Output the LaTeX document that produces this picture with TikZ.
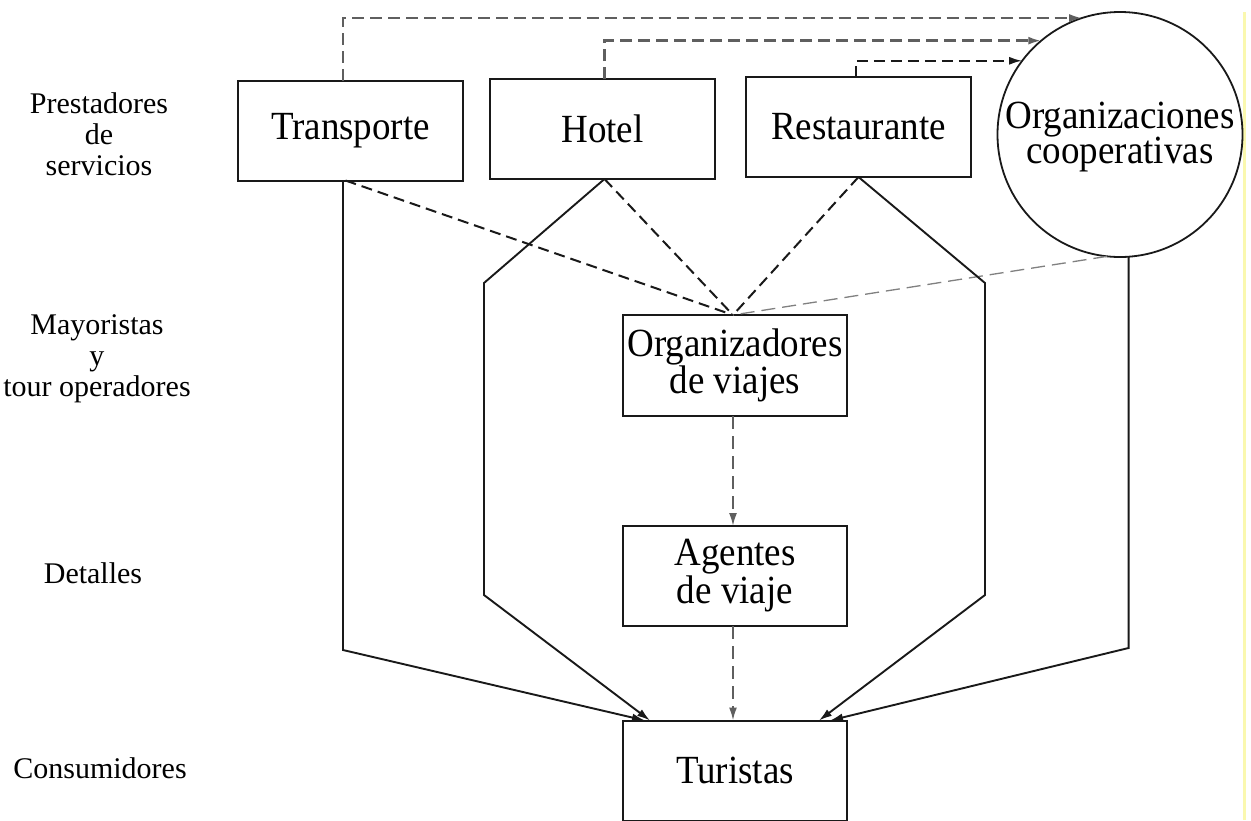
\documentclass[tikz,border=0pt]{standalone}
\usepackage{fontspec}
\usepackage{graphicx}
\setmainfont{Liberation Serif}
\usetikzlibrary{arrows.meta}
\definecolor{lineblack}{RGB}{25,25,25}
\definecolor{dashgray}{RGB}{95,95,95}
\definecolor{paleyellow}{RGB}{250,248,175}
\newcommand{\tallstack}[1]{\scalebox{1}[1.08]{\begin{tabular}{@{}c@{}}#1\end{tabular}}}
\newcommand{\tallword}[1]{\scalebox{1}[1.08]{#1}}
\tikzset{
  box/.style={draw=lineblack, line width=2pt, inner sep=0pt, outer sep=0pt,
    minimum width=225pt, minimum height=100pt, align=center,
    font=\fontsize{37}{29}\selectfont},
  coopnode/.style={draw=lineblack, line width=1.8pt, circle, inner sep=0pt, outer sep=0pt,
    minimum size=245pt, align=center, font=\fontsize{37}{29}\selectfont},
  lab/.style={inner sep=0pt, align=center, font=\fontsize{30}{31}\selectfont},
  tip/.style={-{Latex[length=13pt,width=8pt]}},
  solidline/.style={draw=lineblack, line width=1.9pt},
  topdash/.style={draw=dashgray, line width=2.4pt, dash pattern=on 12pt off 6pt},
  middash/.style={draw=lineblack, line width=2pt, dash pattern=on 11pt off 6pt},
  thindash/.style={draw=gray, line width=1.3pt, dash pattern=on 14pt off 7pt},
  vdash/.style={draw=dashgray, line width=2pt, dash pattern=on 13pt off 7pt}
}
\begin{document}
\begin{tikzpicture}[x=1pt,y=-1pt]
\useasboundingbox (0,0) rectangle (1251,820);
\fill[white] (0,0) rectangle (1251,820);
\draw[paleyellow, line width=3pt] (1244,12) -- (1244,820);

% left labels
\node[lab] (l1) at (99,134) {Prestadores\\de\\servicios};
\node[lab] (l2) at (97,359) {Mayoristas\\y\\tour operadores};
\node[lab] (l3) at (93,573) {Detalles};
\node[lab] (l4) at (100,768) {Consumidores};

% nodes
\node[box] (trans) at (350.5,130.5) {\tallword{Transporte}};
\node[box] (hotel) at (602.5,129) {\tallword{Hotel}};
\node[box] (rest) at (858.5,127) {\tallword{Restaurante}};
\node[coopnode] (coop) at (1120,134.5) {\raisebox{-3pt}[\height][\depth]{\tallstack{Organizaciones\\cooperativas}}};
\node[box, minimum width=224pt, minimum height=101pt] (org) at (735,365.5) {\tallstack{Organizadores\\de viajes}};
\node[box, minimum width=224pt, font=\fontsize{37}{31.5}\selectfont] (agt) at (735,576) {\tallstack{Agentes\\de viaje}};
\node[box, minimum width=224pt] (tur) at (735,770.5) {\tallword{Turistas}};

% top dashed arrows to the circle
\draw[topdash, tip] ([xshift=-7.5pt]trans.north) |- (coop.108);
\draw[topdash, tip] ([xshift=2pt]hotel.north) |- (coop.130.6);
\draw[middash, tip] ([xshift=-2.5pt]rest.north) |- (coop.143.4);

% converging dashed lines
\coordinate (conv) at ([xshift=-2pt]org.north);
\draw[middash] ([xshift=-5pt]trans.south) -- (conv);
\draw[middash] ([xshift=2pt]hotel.south) -- (conv);
\draw[middash] (rest.south) -- (conv);
\draw[thindash] (coop.264) -- (conv);

% vertical dashed arrows
\draw[vdash, tip] ([xshift=-2pt]org.south) -- ([xshift=-2pt]agt.north);
\draw[vdash, tip] ([xshift=-2pt]agt.south) -- ([xshift=-2pt]tur.north);

% solid lines to Turistas
\coordinate (tb) at ([xshift=-7.5pt]trans.south |- 0,650);
\draw[solidline, tip] ([xshift=-7.5pt]trans.south) -- (tb) -- ([xshift=-90pt]tur.north);
\coordinate (h1) at (484,283);
\coordinate (h2) at (484,595);
\draw[solidline, tip] ([xshift=2pt]hotel.south) -- (h1) -- (h2) -- ([xshift=-85pt]tur.north);
\coordinate (r1) at (985,283);
\coordinate (r2) at (985,595);
\draw[solidline, tip] (rest.south) -- (r1) -- (r2) -- ([xshift=84pt]tur.north);
\coordinate (cb) at (coop.274 |- 0,648);
\draw[solidline, tip] (coop.274) -- (cb) -- ([xshift=95pt]tur.north);
\end{tikzpicture}
\end{document}
